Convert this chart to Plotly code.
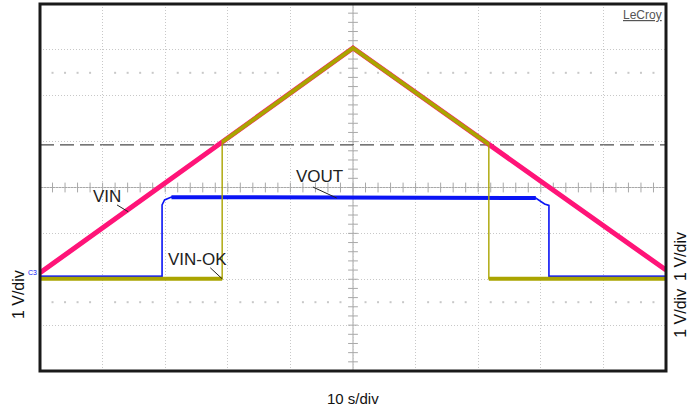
import numpy as np
import plotly.graph_objects as go

# Screen coordinates: time in seconds (10 s/div), amplitude in divisions (1 V/div)
vin_t = [0, 50, 100]
vin_v = [-1.86, 3.04, -1.80]

vinok_t = [0, 29.1, 29.1, 50, 71.7, 71.7, 100]
vinok_v = [-1.99, -1.99, 0.99, 3.04, 0.94, -1.99, -1.99]

vout_t = [0, 19.5, 19.5, 19.9, 21.0, 50, 79.2, 80.6, 81.3, 81.3, 100]
vout_v = [-1.94, -1.94, -0.38, -0.27, -0.21, -0.21, -0.23, -0.36, -0.39, -1.94, -1.94]

threshold_v = 0.93
channel_labels = ["VIN", "VIN-OK", "VOUT"]

MAGENTA = "#ff1478"
OLIVE = "#aaa400"
BLUE = "#0a14f5"
FONT = "Liberation Sans, Arial, sans-serif"

fig = go.Figure()

# graticule: dotted sub-rows at +/-2.5 div
sub_x = [x for x in np.arange(2, 100, 2) if x % 10 != 0]
for row in (2.5, -2.5):
    fig.add_trace(go.Scatter(x=sub_x, y=[row] * len(sub_x), mode="markers",
                             marker=dict(symbol="square", size=2, color="#c8c8c8"),
                             hoverinfo="skip", showlegend=False))

# centre cross ticks
tick_x = np.arange(2, 100, 2)
fig.add_trace(go.Scatter(x=tick_x, y=[0] * len(tick_x), mode="markers",
                         marker=dict(symbol="line-ns", size=7,
                                     line=dict(width=1, color="#a8a8a8")),
                         hoverinfo="skip", showlegend=False))
tick_y = np.arange(-3.8, 4, 0.2)
fig.add_trace(go.Scatter(x=[50] * len(tick_y), y=tick_y, mode="markers",
                         marker=dict(symbol="line-ew", size=7,
                                     line=dict(width=1, color="#a8a8a8")),
                         hoverinfo="skip", showlegend=False))

# VIN trace
fig.add_trace(go.Scatter(x=vin_t, y=vin_v, mode="lines",
                         line=dict(color=MAGENTA, width=5),
                         hoverinfo="skip", showlegend=False))

# VOUT trace: thin edges, heavier noisy plateau
fig.add_trace(go.Scatter(x=vout_t, y=vout_v, mode="lines",
                         line=dict(color=BLUE, width=1.6),
                         hoverinfo="skip", showlegend=False))
fig.add_trace(go.Scatter(x=vout_t[4:7], y=vout_v[4:7], mode="lines",
                         line=dict(color=BLUE, width=4),
                         hoverinfo="skip", showlegend=False))
for seg in ((0, 2), (9, 11)):
    fig.add_trace(go.Scatter(x=vout_t[seg[0]:seg[1]], y=vout_v[seg[0]:seg[1]],
                             mode="lines", line=dict(color=BLUE, width=2.2),
                             hoverinfo="skip", showlegend=False))

# VIN-OK trace: thin switching edges, heavy levels
fig.add_trace(go.Scatter(x=vinok_t, y=vinok_v, mode="lines",
                         line=dict(color=OLIVE, width=1.4),
                         hoverinfo="skip", showlegend=False))
for seg in ((0, 2), (2, 5), (5, 7)):
    fig.add_trace(go.Scatter(x=vinok_t[seg[0]:seg[1]], y=vinok_v[seg[0]:seg[1]],
                             mode="lines", line=dict(color=OLIVE, width=4),
                             hoverinfo="skip", showlegend=False))

shapes = [
    # centre cross
    dict(type="line", xref="x", yref="y", x0=0, x1=100, y0=0, y1=0,
         line=dict(color="#a8a8a8", width=1), layer="below"),
    dict(type="line", xref="x", yref="y", x0=50, x1=50, y0=-4, y1=4,
         line=dict(color="#a8a8a8", width=1), layer="below"),
    # threshold level
    dict(type="line", xref="x", yref="y", x0=0, x1=100, y0=threshold_v, y1=threshold_v,
         line=dict(color="#4a4a4a", width=1.3, dash="14px,6px"), layer="below"),
    # screen frame
    dict(type="rect", xref="paper", yref="paper", x0=0, x1=1, y0=0, y1=1,
         line=dict(color="#1a1a1a", width=3)),
]

# label leaders
leaders = [
    ((12.3, -0.38), (14.1, -0.53)),
    ((27.2, -1.75), (29.1, -1.99)),
    ((43.6, 0.01), (47.4, -0.23)),
]
for (xa, ya), (xb, yb) in leaders:
    shapes.append(dict(type="line", xref="x", yref="y", x0=xa, y0=ya, x1=xb, y1=yb,
                       line=dict(color="#222", width=1)))

label_pos = [(10.7, -0.19), (25.2, -1.58), (44.7, 0.23)]
annotations = []
for text, (x, y) in zip(channel_labels, label_pos):
    annotations.append(dict(x=x, y=y, xref="x", yref="y", text=text, showarrow=False,
                            font=dict(family=FONT, size=17, color="#222")))

div_font = dict(family=FONT, size=16, color="#111")
annotations += [
    dict(x=0.5, y=-0.045, xref="paper", yref="paper", text="10 s/div",
         showarrow=False, yanchor="top", font=dict(family=FONT, size=15, color="#111")),
    dict(x=-0.035, y=0.207, xref="paper", yref="paper", text="1 V/div", textangle=-90,
         showarrow=False, xanchor="center", yanchor="middle", font=div_font),
    dict(x=1.022, y=0.313, xref="paper", yref="paper", text="1 V/div", textangle=-90,
         showarrow=False, xanchor="center", yanchor="middle", font=div_font),
    dict(x=1.022, y=0.158, xref="paper", yref="paper", text="1 V/div", textangle=-90,
         showarrow=False, xanchor="center", yanchor="middle", font=div_font),
    dict(x=0.997, y=0.995, xref="paper", yref="paper", text="<u>LeCroy</u>",
         showarrow=False, xanchor="right", yanchor="top",
         font=dict(family=FONT, size=12, color="#555")),
    dict(x=-0.002, y=-1.85, xref="paper", yref="y", text="C3", showarrow=False,
         xanchor="right", font=dict(family=FONT, size=7, color=BLUE)),
]

# trigger and channel markers
fig.add_trace(go.Scatter(x=[13.9], y=[-4.03], mode="markers",
                         marker=dict(symbol="triangle-up", size=7, color=BLUE),
                         cliponaxis=False, hoverinfo="skip", showlegend=False))
fig.add_trace(go.Scatter(x=[101.0], y=[-0.35], mode="markers",
                         marker=dict(symbol="triangle-up-open", size=6, color="#3a46ff"),
                         cliponaxis=False, hoverinfo="skip", showlegend=False))

fig.update_layout(
    width=692, height=406,
    margin=dict(l=40, r=26, t=4, b=35),
    paper_bgcolor="white", plot_bgcolor="white",
    shapes=shapes, annotations=annotations,
    xaxis=dict(range=[0, 100], dtick=10, showgrid=True, gridcolor="#c8c8c8",
               griddash="1px,2px", gridwidth=1, zeroline=False,
               showticklabels=False, ticks="", fixedrange=True),
    yaxis=dict(range=[-4, 4], dtick=1, showgrid=True, gridcolor="#c8c8c8",
               griddash="1px,2px", gridwidth=1, zeroline=False,
               showticklabels=False, ticks="", fixedrange=True),
)

fig.write_html("out.html")
